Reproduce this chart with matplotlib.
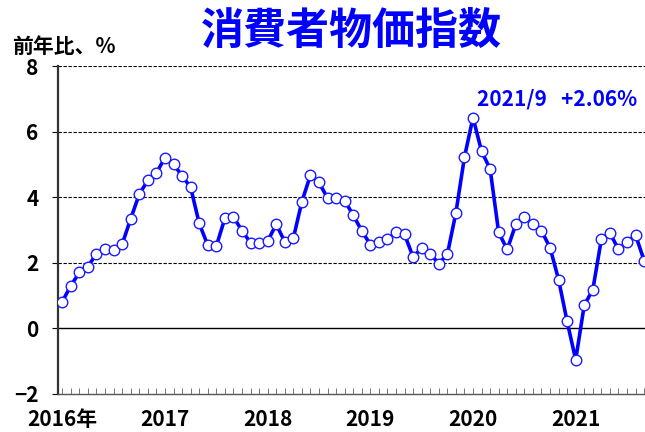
import matplotlib
matplotlib.use("Agg")
import matplotlib.pyplot as plt
import numpy as np

# ---- data ----
cpi = [0.81, 1.29, 1.70, 1.88, 2.27, 2.41, 2.39, 2.56, 3.34, 4.09, 4.51, 4.73,
       5.21, 5.01, 4.65, 4.30, 3.20, 2.53, 2.50, 3.35, 3.40, 2.97, 2.61, 2.60,
       2.65, 3.17, 2.64, 2.74, 3.86, 4.67, 4.45, 3.97, 3.98, 3.89, 3.45, 2.97,
       2.55, 2.63, 2.71, 2.93, 2.86, 2.17, 2.45, 2.26, 1.97, 2.25, 3.52, 5.22,
       6.43, 5.40, 4.86, 2.92, 2.40, 3.17, 3.38, 3.17, 2.97, 2.46, 1.48, 0.20,
       -0.97, 0.70, 1.17, 2.71, 2.91, 2.40, 2.63, 2.84, 2.06]
year_labels = ["2016年", "2017", "2018", "2019", "2020", "2021"]
y_ticks = [-2, 0, 2, 4, 6, 8]
y_tick_labels = ["−2", "0", "2", "4", "6", "8"]
title = "消費者物価指数"
ylabel = "前年比、%"
note = "2021/9   +2.06%"

fam = ["Noto Sans CJK JP", "DejaVu Sans"]

fig = plt.figure(figsize=(6.45, 4.32), dpi=100)
ax = fig.add_axes([0.0899, 0.0891, 0.9101, 0.7577])

x = np.arange(len(cpi))
ax.plot(x, cpi, color="#0000FF", lw=2.6, marker="o", ms=7.6,
        mfc="white", mec="#1a1aff", mew=1.0, zorder=3)

ax.set_xlim(-0.5, 68.1)
ax.set_ylim(-2, 8)

for v in [2, 4, 6, 8]:
    ax.axhline(v, color="black", lw=0.8, ls=(0, (3, 1.5)), zorder=1)
ax.axhline(0, color="black", lw=1.0, zorder=1)

for s in ["top", "right"]:
    ax.spines[s].set_visible(False)
ax.spines["left"].set_color("#333333")
ax.spines["left"].set_linewidth(1.6)
ax.spines["bottom"].set_color("#555555")
ax.spines["bottom"].set_linewidth(1.0)

ax.set_yticks(y_ticks)
ax.set_yticklabels(y_tick_labels)
ax.set_xticks(np.arange(0, len(cpi), 12))
ax.set_xticklabels(year_labels)
ax.set_xticks(np.arange(0, len(cpi)), minor=True)
ax.tick_params(axis="x", which="both", direction="in", length=4, color="#777777",
               width=0.7, pad=11)
ax.tick_params(axis="y", direction="out", length=4, width=0.8, pad=10)
for lab in ax.get_xticklabels() + ax.get_yticklabels():
    lab.set_family(fam)
    lab.set_fontweight("bold")
    lab.set_fontsize(15)
    lab.set_color("black")

fig.text(0.545, 0.928, title, ha="center", va="center", color="#0000FF",
         fontsize=31, fontweight="bold", family=fam)
fig.text(0.018, 0.893, ylabel, ha="left", va="center", color="black",
         fontsize=15, fontweight="bold", family=fam)
fig.text(0.988, 0.771, note, ha="right", va="center",
         color="#0000FF", fontsize=15, fontweight="bold", family=fam)

fig.savefig("out.png", dpi=100)
